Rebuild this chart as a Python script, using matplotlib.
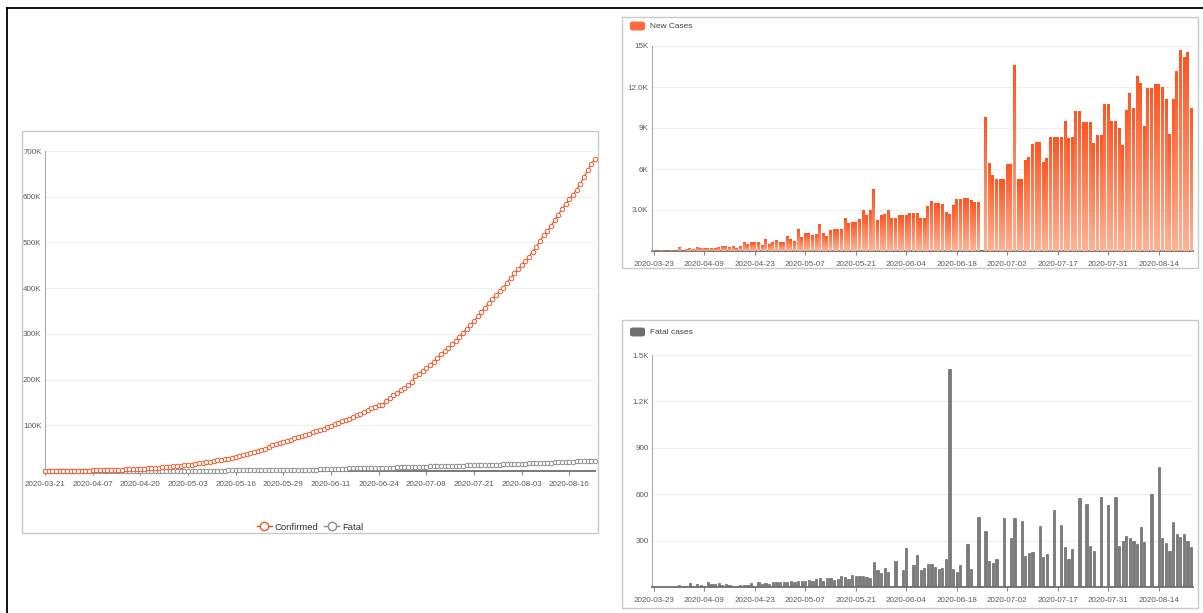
import numpy as np
import pandas as pd
import matplotlib
matplotlib.use('Agg')
import matplotlib.pyplot as plt
from matplotlib.colors import LinearSegmentedColormap
from matplotlib.lines import Line2D
from matplotlib.patches import Rectangle, FancyBboxPatch

plt.rcParams['font.family'] = ['Liberation Sans', 'DejaVu Sans']

# ---------------- data ----------------
start_date = '2020-03-21'
end_date = '2020-08-23'
missing_dates = ['2020-03-22', '2020-03-28', '2020-03-29', '2020-04-05', '2020-07-04']
confirmed_start = 300
fatal_start = 10

new_cases = [
    30, 0, 50, 0, 0, 50, 0, 250, 0, 80, 200, 100, 280, 150,
    150, 150, 200, 200, 250, 350, 350, 250, 300, 150, 350, 600, 500, 600,
    650, 650, 400, 850, 500, 600, 750, 650, 600, 1050, 850, 700, 1600, 1000,
    1250, 1250, 1100, 1200, 1950, 1250, 1050, 1500, 1600, 1600, 1600,
    2350, 2000, 2050, 2100, 2300, 2950, 2600, 3000, 4500, 2200, 2600, 2700, 2950,
    2400, 2400, 2600, 2600, 2600, 2750, 2750, 2750, 2400, 2400, 3250, 3600, 3500,
    3450, 3400, 2800, 2700, 3300, 3750, 3800, 3850, 3850, 3700, 3550, 3550,
    0, 9800, 6400, 5500, 5250, 5200, 5200, 6350, 6350, 13600, 5250, 5250, 6600,
    6850, 7800, 7950, 7950, 6500, 6750, 8300, 8300, 8300, 8300, 9500, 8200, 8300,
    10200, 10200, 9400, 9400, 9400, 7900, 8450, 8450, 10700, 10700, 9500, 9500,
    8950, 7750, 10300, 11500, 10450, 12800, 12250, 9100, 11900, 11900, 12200,
    12200, 12000, 11100, 8500, 11100, 13150, 14650, 14150, 14500, 10400,
]

fatal_cases = [
    0, 0, 0, 0, 0, 0, 0, 15, 0, 5, 25, 0, 20, 10, 0,
    30, 20, 20, 25, 15, 20, 10, 8, 8, 10, 10, 12, 25, 5, 35,
    20, 25, 20, 30, 35, 35, 30, 30, 40, 35, 40, 40, 40, 45, 40,
    50, 55, 40, 55, 55, 45, 50, 70, 65, 50, 80, 70, 70, 70, 65, 60,
    160, 110, 90, 120, 100, 0, 170, 0, 110, 250, 0, 145, 210, 110, 125,
    150, 150, 130, 115, 120, 180, 1410, 115, 100, 140, 0, 280, 115, 0, 455,
    0, 365, 170, 155, 180, 0, 445, 0, 320, 445, 0, 425, 200, 220, 225,
    0, 395, 195, 215, 0, 500, 0, 400, 260, 180, 245, 0, 575, 0, 535,
    265, 230, 0, 580, 0, 530, 0, 580, 265, 300, 330, 315, 300, 275, 390,
    290, 0, 600, 0, 775, 320, 285, 230, 420, 345, 325, 340, 300, 260,
]

new_ytick_values = [3000, 6000, 9000, 12000, 15000]
new_ytick_labels = ['3.0K', '6K', '9K', '12.0K', '15K']
fatal_ytick_values = [300, 600, 900, 1200, 1500]
fatal_ytick_labels = ['300', '600', '900', '1.2K', '1.5K']
cum_ytick_values = [100000, 200000, 300000, 400000, 500000, 600000, 700000]
cum_ytick_labels = ['100K', '200K', '300K', '400K', '500K', '600K', '700K']

dates = [d.strftime('%Y-%m-%d') for d in pd.date_range(start_date, end_date)
         if d.strftime('%Y-%m-%d') not in missing_dates]
bar_dates = dates[1:]
confirmed = confirmed_start + np.concatenate([[0], np.cumsum(new_cases)])
fatal_total = fatal_start + np.concatenate([[0], np.cumsum(fatal_cases)])

# ---------------- figure ----------------
W, H = 1203, 613
fig = plt.figure(figsize=(W / 100, H / 100), dpi=100)
fig.patch.set_facecolor('white')


def box(l, t, r, b):
    return [l / W, 1 - b / H, (r - l) / W, (b - t) / H]


def panel(l, t, r, b):
    fig.patches.append(Rectangle((l / W, 1 - b / H), (r - l) / W, (b - t) / H,
                                 transform=fig.transFigure, fill=False,
                                 ec='#c9c9c9', lw=1.0, zorder=0))


# black outer frame (top + left)
fig.lines.append(Line2D([6.5 / W, 1], [1 - 7.5 / H, 1 - 7.5 / H], transform=fig.transFigure,
                        color='black', lw=1.3))
fig.lines.append(Line2D([6.5 / W, 6.5 / W], [0, 1 - 7.5 / H], transform=fig.transFigure,
                        color='black', lw=1.3))

panel(22, 131, 598, 533)
panel(622, 17, 1198, 268)
panel(622, 320, 1198, 608)

LBL = '#5a5a5a'
FS = 5.8


def style(ax, ylw_color='#aaaaaa'):
    for s in ('top', 'right'):
        ax.spines[s].set_visible(False)
    ax.spines['left'].set_color(ylw_color)
    ax.spines['left'].set_linewidth(0.8)
    ax.spines['bottom'].set_color('#6e6e6e')
    ax.spines['bottom'].set_linewidth(1.3)
    ax.yaxis.grid(True, color='#efefef', lw=0.8)
    ax.set_axisbelow(True)
    ax.tick_params(axis='y', length=0, labelsize=FS, labelcolor=LBL, pad=2.5)
    ax.tick_params(axis='x', length=3, color='#8a8a8a', width=0.8,
                   labelsize=FS, labelcolor=LBL, pad=4)
    ax.set_facecolor('none')


# ---- left: cumulative line chart ----
ax = fig.add_axes(box(45, 151, 595, 471))
x = np.arange(len(dates))
ax.plot(x, fatal_total, color='#8c8c8c', lw=0.9, marker='o', ms=3.2, mfc='white',
        mec='#8c8c8c', mew=0.7, clip_on=False, zorder=3)
ax.plot(x, confirmed, color='#ea5a2c', lw=0.9, marker='o', ms=3.2, mfc='white',
        mec='#ea5a2c', mew=0.7, clip_on=False, zorder=4)
ax.set_xlim(0, len(dates) - 1)
ax.set_ylim(0, 700000)
ax.set_yticks(cum_ytick_values)
ax.set_yticklabels(cum_ytick_labels)
ax.set_xticks(x[::13])
ax.set_xticklabels(dates[::13])
style(ax)

handles = [Line2D([], [], color='#ea5a2c', lw=1, marker='o', ms=6, mfc='white', mew=1),
           Line2D([], [], color='#8c8c8c', lw=1, marker='o', ms=6, mfc='white', mew=1)]
fig.legend(handles, ['Confirmed', 'Fatal'], loc='center', bbox_to_anchor=(310 / W, 1 - 527 / H),
           ncol=2, frameon=False, fontsize=6.8, handlelength=1.6, handletextpad=0.3,
           columnspacing=0.6, labelcolor='#333333')

# ---- new cases bars ----
axn = fig.add_axes(box(652, 46, 1193, 251))
xb = np.arange(len(bar_dates))
bw = 0.8
axn.bar(xb, new_cases, width=bw, color='#ff6a3d', edgecolor='none', zorder=2)
cmap = LinearSegmentedColormap.from_list('g', ['#ffb294', '#ff5522'])
grad = np.linspace(0, 1, 64).reshape(-1, 1)
for xi, v in zip(xb, new_cases):
    if v > 0:
        axn.imshow(grad, extent=(xi - bw / 2, xi + bw / 2, 0, v), origin='lower',
                   cmap=cmap, aspect='auto', interpolation='bilinear', zorder=3)
axn.set_xlim(-0.5, len(bar_dates) - 0.5)
axn.set_ylim(0, 15000)
axn.set_yticks(new_ytick_values)
axn.set_yticklabels(new_ytick_labels)
axn.set_xticks(xb[::14])
axn.set_xticklabels(bar_dates[::14])
style(axn)

# ---- fatal bars ----
axf = fig.add_axes(box(652, 355, 1193, 587))
axf.bar(xb, fatal_cases, width=0.62, color='#7b7b7b', edgecolor='#555555', lw=0.4, zorder=2)
axf.set_xlim(-0.5, len(bar_dates) - 0.5)
axf.set_ylim(0, 1500)
axf.set_yticks(fatal_ytick_values)
axf.set_yticklabels(fatal_ytick_labels)
axf.set_xticks(xb[::14])
axf.set_xticklabels(bar_dates[::14])
style(axf)

# ---- bar legends ----
def bar_legend(x0, yc, color, text):
    fig.patches.append(FancyBboxPatch(((x0) / W, 1 - (yc + 4.5) / H), 15 / W, 9 / H,
                                      boxstyle='round,pad=0,rounding_size=0.003',
                                      transform=fig.transFigure, fc=color, ec='none'))
    fig.text((x0 + 20) / W, 1 - yc / H, text, fontsize=6.0, color='#444444',
             va='center', ha='left')


bar_legend(630, 26, '#ff6a3d', 'New Cases')
bar_legend(630, 332, '#6e6e6e', 'Fatal cases')

fig.savefig('out.png', dpi=100)
